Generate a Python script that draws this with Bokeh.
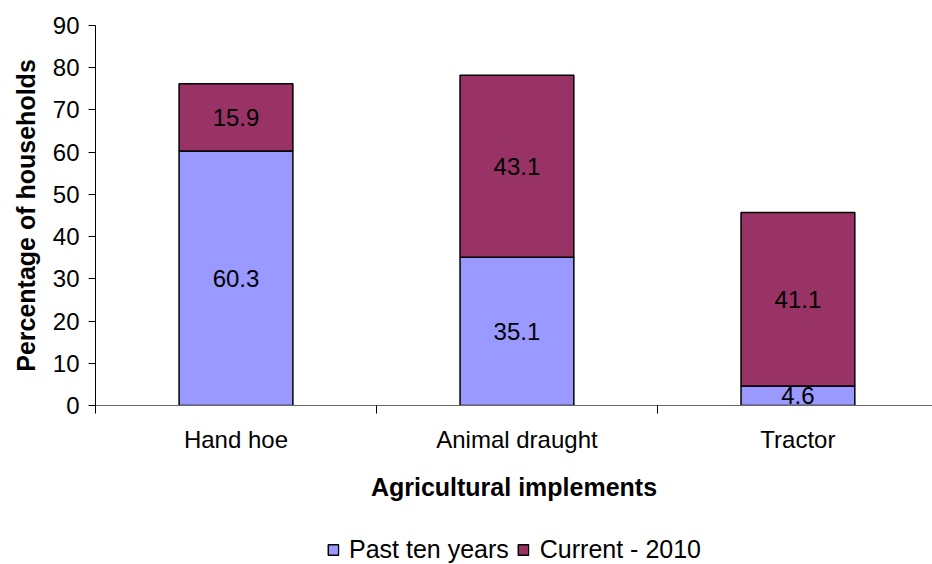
import numpy as np
from bokeh.plotting import figure
from bokeh.layouts import column
from bokeh.models import Range1d, FixedTicker, ColumnDataSource, Legend, LegendItem
from bokeh.core.properties import value
from bokeh.embed import file_html
from bokeh.resources import INLINE

categories = ["Hand hoe", "Animal draught", "Tractor"]
past_ten_years = [60.3, 35.1, 4.6]
current_2010 = [15.9, 43.1, 41.1]
series_names = ["Past ten years", "Current - 2010"]
y_ticks = list(range(0, 100, 10))

FONT = "Liberation Sans"
C_PAST = "#9999FF"
C_CUR = "#993366"

n = len(categories)
xc = np.arange(n) + 0.5
past = np.array(past_ten_years)
cur = np.array(current_2010)

src = ColumnDataSource(dict(
    x=xc, past=past, cur=cur, top2=past + cur,
    past_mid=past / 2, cur_mid=past + cur / 2,
    past_lbl=[f"{v:.1f}" for v in past], cur_lbl=[f"{v:.1f}" for v in cur],
))

H1 = 510
p = figure(width=932, height=H1, output_backend="svg", toolbar_location=None,
           x_range=Range1d(0, 2.979), y_range=Range1d(0, 90),
           min_border_left=95, min_border_right=0, min_border_top=25,
           min_border_bottom=H1 - 405)
p.outline_line_color = None
p.xgrid.visible = False
p.ygrid.visible = False
p.background_fill_color = "white"

bw = 0.405
p.vbar(x="x", bottom=0, top="past", width=bw, source=src,
       fill_color=C_PAST, line_color="black", line_width=1.5)
p.vbar(x="x", bottom="past", top="top2", width=bw, source=src,
       fill_color=C_CUR, line_color="black", line_width=1.5)

p.text(x="x", y="past_mid", text="past_lbl", source=src, text_align="center",
       text_baseline="middle", text_font=value(FONT), text_font_size="24px", text_color="black")
p.text(x="x", y="cur_mid", text="cur_lbl", source=src, text_align="center",
       text_baseline="middle", text_font=value(FONT), text_font_size="24px", text_color="black")

# y axis
ya = p.yaxis[0]
ya.ticker = FixedTicker(ticks=y_ticks)
ya.major_tick_out = 7
ya.major_tick_in = 0
ya.minor_tick_out = 0
ya.minor_tick_in = 0
ya.axis_line_color = "black"
ya.major_tick_line_color = "black"
ya.major_label_text_font = FONT
ya.major_label_text_font_size = "24px"
ya.major_label_text_color = "black"
ya.major_label_standoff = 9
ya.axis_label = "Percentage of households"
ya.axis_label_text_font = FONT
ya.axis_label_text_font_style = "bold"
ya.axis_label_text_font_size = "25px"
ya.axis_label_text_color = "black"
ya.axis_label_standoff = 10

# x axis
xa = p.xaxis[0]
xa.ticker = FixedTicker(ticks=list(xc), minor_ticks=list(range(n + 1)))
xa.major_label_overrides = {float(x): c for x, c in zip(xc, categories)}
xa.major_tick_out = 0
xa.major_tick_in = 0
xa.major_tick_line_color = None
xa.minor_tick_out = 8
xa.minor_tick_in = 0
xa.minor_tick_line_color = "black"
xa.axis_line_color = "#666666"
xa.major_label_text_font = FONT
xa.major_label_text_font_size = "24px"
xa.major_label_text_color = "black"
xa.major_label_standoff = 12
xa.axis_label = "Agricultural implements"
xa.axis_label_text_font = FONT
xa.axis_label_text_font_style = "bold"
xa.axis_label_text_font_size = "25px"
xa.axis_label_text_color = "black"
xa.axis_label_standoff = 17

# legend strip: legend-only renderers whose (NaN) data draws nothing
H2 = 564 - H1
lp = figure(width=932, height=H2, output_backend="svg", toolbar_location=None,
            x_range=Range1d(0, 1), y_range=Range1d(0, 1),
            min_border_left=95, min_border_right=0, min_border_top=0, min_border_bottom=0)
lp.xaxis.visible = False
lp.yaxis.visible = False
lp.xgrid.visible = False
lp.ygrid.visible = False
lp.outline_line_color = None
nan_src = ColumnDataSource(dict(x=np.array([np.nan]), top=np.array([np.nan])))
g1 = lp.vbar(x="x", bottom=0, top="top", width=0.1, source=nan_src,
             fill_color=C_PAST, line_color="black", line_width=1.5)
g2 = lp.vbar(x="x", bottom=0, top="top", width=0.1, source=nan_src,
             fill_color=C_CUR, line_color="black", line_width=1.5)
legend = Legend(items=[LegendItem(label=series_names[0], renderers=[g1]),
                       LegendItem(label=series_names[1], renderers=[g2])],
                orientation="horizontal", location="bottom",
                label_text_font=FONT, label_text_font_size="25px", label_text_color="black",
                glyph_width=13, glyph_height=13, spacing=8, label_standoff=10,
                border_line_color=None, background_fill_alpha=0,
                margin=0, padding=0)
lp.add_layout(legend, "center")

layout = column(p, lp, spacing=0)
open("out.html", "w").write(file_html(layout, INLINE))
